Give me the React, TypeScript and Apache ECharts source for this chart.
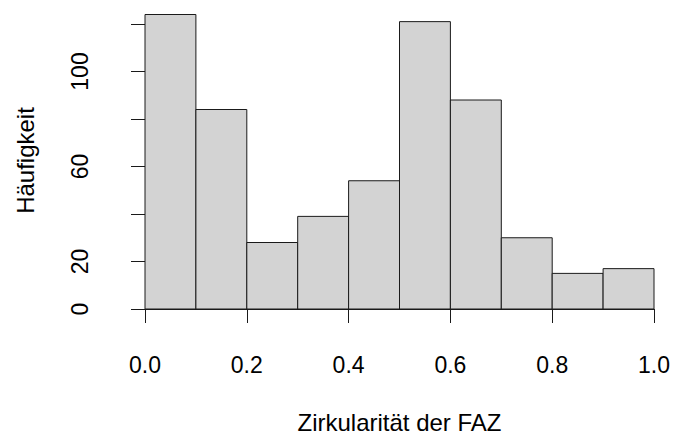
import React, { useEffect, useRef } from "react";
import * as echarts from "echarts";

const binStarts = [0.0, 0.1, 0.2, 0.3, 0.4, 0.5, 0.6, 0.7, 0.8, 0.9];
const binWidth = 0.1;
const counts = [124, 84, 28, 39, 54, 121, 88, 30, 15, 17];
const yLabelValues = [0, 20, 60, 100];
const xTitle = "Zirkularität der FAZ";
const yTitle = "Häufigkeit";

const FONT = "'Liberation Sans', Arial, sans-serif";
const INK = "#1a1a1a";

export default function App() {
  const ref = useRef<HTMLDivElement>(null);
  useEffect(() => {
    if (!ref.current) return;
    const chart = echarts.init(ref.current, null, { renderer: "svg" });
    const data = binStarts.map((s, i) => [s, s + binWidth, counts[i]]);
    chart.setOption({
      animation: false,
      backgroundColor: "#ffffff",
      grid: { left: 145, right: 19, top: 24, bottom: 130 },
      xAxis: {
        type: "value",
        min: 0,
        max: 1,
        interval: 0.2,
        offset: 13,
        name: xTitle,
        nameLocation: "middle",
        nameGap: 88,
        nameTextStyle: { fontFamily: FONT, fontSize: 24, color: "#000" },
        axisLine: { show: true, lineStyle: { color: INK, width: 1 } },
        axisTick: { show: true, length: 14, lineStyle: { color: INK, width: 1 } },
        axisLabel: {
          margin: 31,
          fontFamily: FONT,
          fontSize: 23,
          color: "#000",
          formatter: (v: number) => v.toFixed(1),
        },
        splitLine: { show: false },
      },
      yAxis: {
        type: "value",
        min: 0,
        max: 120,
        interval: 20,
        offset: 22,
        name: yTitle,
        nameLocation: "middle",
        nameGap: 86,
        nameTextStyle: {
          fontFamily: FONT,
          fontSize: 24,
          color: "#000",
          padding: [0, 0, 0, 12],
        },
        axisLine: { show: true, lineStyle: { color: INK, width: 1 } },
        axisTick: { show: true, length: 14, lineStyle: { color: INK, width: 1 } },
        axisLabel: {
          rotate: 90,
          margin: 32,
          fontFamily: FONT,
          fontSize: 23,
          color: "#000",
          formatter: (v: number) => (yLabelValues.includes(v) ? String(v) : ""),
        },
        splitLine: { show: false },
      },
      series: [
        {
          type: "custom",
          clip: false,
          data,
          encode: { x: [0, 1], y: 2 },
          renderItem: (params: any, api: any) => {
            const x0 = api.value(0);
            const x1 = api.value(1);
            const c = api.value(2);
            const p0 = api.coord([x0, c]);
            const p1 = api.coord([x1, 0]);
            return {
              type: "rect",
              shape: { x: p0[0], y: p0[1], width: p1[0] - p0[0], height: p1[1] - p0[1] },
              style: { fill: "#d3d3d3", stroke: INK, lineWidth: 1 },
            };
          },
        },
      ],
    });
    return () => chart.dispose();
  }, []);
  return (
    <div
      ref={ref}
      style={{ position: "absolute", left: 0, top: 0, width: 673, height: 439 }}
    />
  );
}
